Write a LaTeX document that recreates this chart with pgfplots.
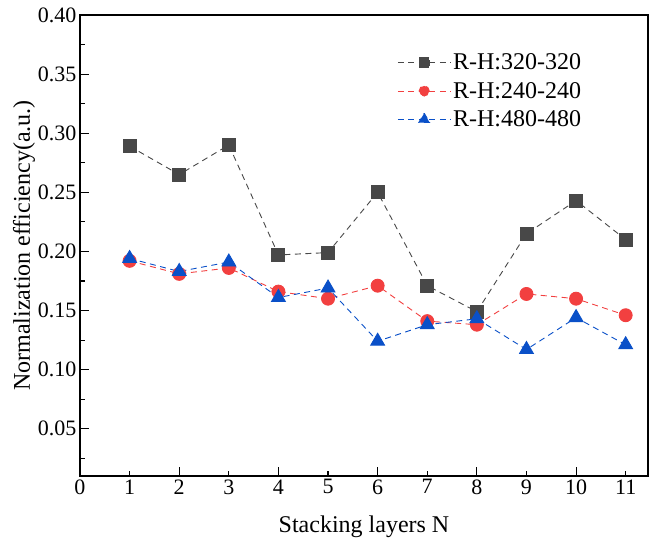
\documentclass[border=0pt]{standalone}
\usepackage{fontspec}
\setmainfont{Liberation Serif}
\usepackage{pgfplots}
\pgfplotsset{compat=1.18}

\definecolor{sgray}{RGB}{72,72,72}
\definecolor{sred}{RGB}{242,64,64}
\definecolor{sblue}{RGB}{10,80,200}

\begin{document}
\begin{tikzpicture}
\begin{axis}[
  scale only axis,
  width=568pt, height=461pt,
  xmin=0, xmax=11.45,
  ymin=0.01, ymax=0.40,
  axis line style={line width=1.3pt},
  xtick={0,2,...,10},
  extra x ticks={1,3,...,11},
  extra x tick style={major tick length=5pt},
  ytick={0.05,0.10,...,0.40},
  minor ytick={0.025,0.075,...,0.375},
  major tick length=9pt,
  minor tick length=5pt,
  tick style={line width=1.1pt, black},
  xtick pos=bottom, ytick pos=left,
  tick align=inside,
  /pgf/number format/assume math mode=true,
  yticklabel style={/pgf/number format/fixed, /pgf/number format/fixed zerofill, /pgf/number format/precision=2, font=\fontsize{22}{24}\selectfont},
  xticklabel style={font=\fontsize{22}{24}\selectfont},
  xlabel={Stacking layers N},
  ylabel={Normalization efficiency(a.u.)},
  label style={font=\fontsize{24}{26}\selectfont},
  xlabel style={yshift=-15pt},
  ylabel style={yshift=-4pt},
  legend style={draw=none, fill=none, at={(0.553,0.925)}, anchor=north west,
    font=\fontsize{24}{26}\selectfont, row sep=7pt,
    /tikz/every even column/.append style={column sep=2pt}},
  legend cell align=left,
  legend image code/.code={
    \draw[mark repeat=2, mark phase=2, mark options={scale=0.78}, #1] plot coordinates {(0cm,0cm) (0.93cm,0cm) (1.86cm,0cm)};
  },
  every axis plot/.append style={line width=0.9pt, dash pattern=on 6pt off 4.5pt},
]
\addplot[sgray, mark=square*, mark size=6.5pt, mark options={solid, fill=sgray}] coordinates {
  (1,0.289) (2,0.265) (3,0.290) (4,0.197) (5,0.199) (6,0.250)
  (7,0.171) (8,0.149) (9,0.215) (10,0.243) (11,0.210)};
\addlegendentry{R-H:320-320}
\addplot[sred, mark=*, mark size=6.5pt, mark options={solid, fill=sred}] coordinates {
  (1,0.192) (2,0.181) (3,0.186) (4,0.166) (5,0.160) (6,0.171)
  (7,0.141) (8,0.138) (9,0.164) (10,0.160) (11,0.146)};
\addlegendentry{R-H:240-240}
\addplot[sblue, mark=triangle*, mark size=8pt, mark options={solid, fill=sblue}] coordinates {
  (1,0.194) (2,0.183) (3,0.191) (4,0.161) (5,0.169) (6,0.124)
  (7,0.138) (8,0.143) (9,0.117) (10,0.144) (11,0.121)};
\addlegendentry{R-H:480-480}
\end{axis}
\path (current axis.south west) ++(-80pt,-69pt) coordinate (bbsw);
\path (current axis.north east) ++(1pt,15pt) coordinate (bbne);
\path (bbsw) rectangle (bbne);
\end{tikzpicture}
\end{document}
